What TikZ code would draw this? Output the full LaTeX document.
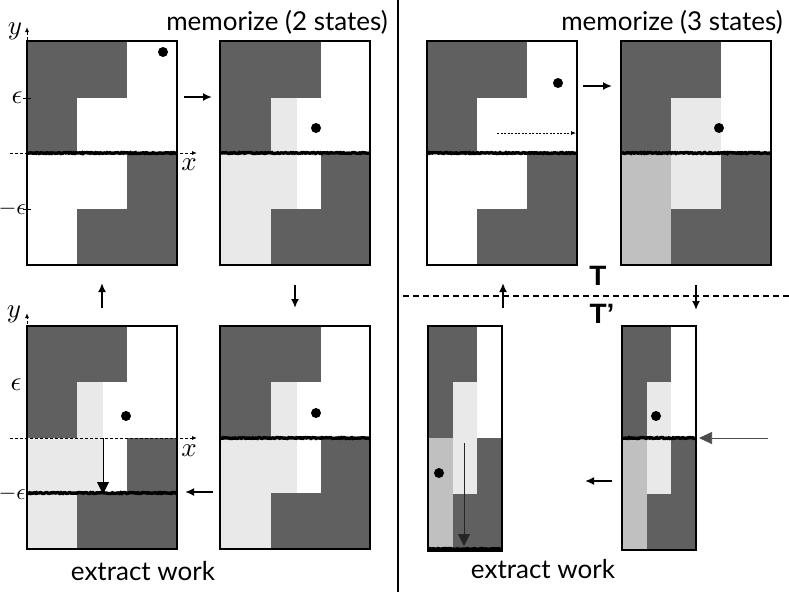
\documentclass[tikz,border=0pt]{standalone}
\usepackage{fontspec}
\newfontfamily\labelfont{Lato}
\newfontfamily\tfont{Liberation Sans}
\usetikzlibrary{arrows.meta,decorations.pathmorphing}
\definecolor{darkg}{RGB}{96,96,96}
\definecolor{lightg}{RGB}{233,233,233}
\definecolor{midg}{RGB}{192,192,192}
\begin{document}
\begin{tikzpicture}[x=1pt,y=-1pt,
  dk/.style={fill=darkg},
  lt/.style={fill=lightg},
  md/.style={fill=midg},
  wt/.style={fill=white},
  frame/.style={draw=black,line width=1.1pt,fill=none,inner sep=0pt,outer sep=0pt,anchor=north west},
  noisy/.style={line width=3.4pt,decorate,decoration={random steps,segment length=1.2pt,amplitude=0.5pt}},
  flow/.style={-{Latex[length=9pt,width=8pt]},line width=1.8pt},
  bigtip/.style={-{Triangle[length=12pt,width=12pt]},line width=0.9pt},
  axis/.style={dash pattern=on 3pt off 2pt,line width=0.9pt,-{Latex[length=5pt,width=4pt]}},
  dot/.style={circle,fill=black,minimum size=10pt,inner sep=0pt},
  title/.style={font=\labelfont\fontsize{26}{26}\selectfont},
  tl/.style={font=\tfont\bfseries\fontsize{28}{28}\selectfont},
  ml/.style={inner sep=0pt}]
\useasboundingbox (0,0) rectangle (789,592);

% ---------- panel 1 ----------
\fill[dk] (27,41) rectangle (177,265);
\fill[wt] (127,41) rectangle (177,153);
\fill[wt] (77,98) rectangle (127,153);
\fill[wt] (27,153) rectangle (127,209);
\fill[wt] (27,209) rectangle (77,265);
\node[frame,minimum width=150pt,minimum height=224pt] (p1) at (27,41) {};
\coordinate (n1a) at (27,153); \coordinate (n1b) at (177,153);
\draw[noisy] (n1a) -- (n1b);
\node[dot] (d1) at (163,52) {};
\coordinate (y1b) at (27,265); \coordinate (y1t) at (27,27);
\draw[axis] (y1b) -- (y1t);
\coordinate (x1l) at (10,153); \coordinate (x1r) at (197,153);
\draw[axis] (x1l) -- (x1r);
\coordinate (t1a) at (23,98); \coordinate (t1b) at (31,98);
\coordinate (t2a) at (23,209); \coordinate (t2b) at (31,209);
\draw[line width=0.9pt] (t1a) -- (t1b) (t2a) -- (t2b);
\node[ml] (ly1) at (15,31) {\scalebox{2.7}{$y$}};
\node[ml] (lx1) at (189,165) {\scalebox{2.7}{$x$}};
\node[ml] (le1) at (17,98) {\scalebox{2.7}{$\epsilon$}};
\node[ml,anchor=east] (lme1) at (26,209) {\scalebox{2.3}{$-\epsilon$}};

% ---------- panel 2 ----------
\fill[dk] (220,41) rectangle (370,265);
\fill[wt] (321,41) rectangle (370,153);
\fill[lt] (271,98) rectangle (297,153);
\fill[wt] (297,98) rectangle (321,153);
\fill[lt] (220,153) rectangle (297,209);
\fill[wt] (297,153) rectangle (321,209);
\fill[lt] (220,209) rectangle (271,265);
\node[frame,minimum width=150pt,minimum height=224pt] (p2) at (220,41) {};
\coordinate (n2a) at (220,153); \coordinate (n2b) at (370,153);
\draw[noisy] (n2a) -- (n2b);
\node[dot] (d2) at (316,128) {};

% ---------- panel 3 ----------
\fill[dk] (27,326) rectangle (177,549);
\fill[wt] (127,326) rectangle (177,438);
\fill[lt] (77,382) rectangle (103,438);
\fill[wt] (103,382) rectangle (127,438);
\fill[lt] (27,438) rectangle (103,493);
\fill[wt] (103,438) rectangle (127,493);
\fill[lt] (27,493) rectangle (77,549);
\node[frame,minimum width=150pt,minimum height=223pt] (p3) at (27,326) {};
\coordinate (n3a) at (27,493); \coordinate (n3b) at (177,493);
\draw[noisy] (n3a) -- (n3b);
\node[dot] (d3) at (126,416) {};
\coordinate (y3b) at (27,549); \coordinate (y3t) at (27,313);
\draw[axis] (y3b) -- (y3t);
\coordinate (x3l) at (10,438); \coordinate (x3r) at (197,438);
\draw[axis] (x3l) -- (x3r);
\coordinate (w3a) at (103,438); \coordinate (w3b) at (103,494);
\draw[bigtip] (w3a) -- (w3b);
\node[ml] (ly3) at (14,314) {\scalebox{2.7}{$y$}};
\node[ml] (lx3) at (189,451) {\scalebox{2.7}{$x$}};
\node[ml] (le3) at (16,385) {\scalebox{2.7}{$\epsilon$}};
\node[ml,anchor=east] (lme3) at (26,494) {\scalebox{2.3}{$-\epsilon$}};

% ---------- panel 4 ----------
\fill[dk] (220,326) rectangle (370,549);
\fill[wt] (321,326) rectangle (370,438);
\fill[lt] (271,382) rectangle (297,438);
\fill[wt] (297,382) rectangle (321,438);
\fill[lt] (220,438) rectangle (297,493);
\fill[wt] (297,438) rectangle (321,493);
\fill[lt] (220,493) rectangle (271,549);
\node[frame,minimum width=150pt,minimum height=223pt] (p4) at (220,326) {};
\coordinate (n4a) at (220,438); \coordinate (n4b) at (370,438);
\draw[noisy] (n4a) -- (n4b);
\node[dot] (d4) at (316,413) {};

% ---------- panel 5 ----------
\fill[dk] (427,41) rectangle (577,265);
\fill[wt] (527,41) rectangle (577,153);
\fill[wt] (477,98) rectangle (527,153);
\fill[wt] (427,153) rectangle (527,209);
\fill[wt] (427,209) rectangle (477,265);
\node[frame,minimum width=150pt,minimum height=224pt] (p5) at (427,41) {};
\coordinate (n5a) at (427,153); \coordinate (n5b) at (577,153);
\draw[noisy] (n5a) -- (n5b);
\node[dot] (d5) at (558,83) {};
\coordinate (m5a) at (497,133); \coordinate (m5b) at (576,133);
\draw[dash pattern=on 2pt off 1.5pt,line width=0.7pt,-{Latex[length=5pt,width=4pt]}] (m5a) -- (m5b);

% ---------- panel 6 ----------
\fill[dk] (621,41) rectangle (771,265);
\fill[wt] (721,41) rectangle (771,153);
\fill[lt] (671,98) rectangle (721,209);
\fill[md] (621,153) rectangle (671,265);
\node[frame,minimum width=150pt,minimum height=224pt] (p6) at (621,41) {};
\coordinate (n6a) at (621,153); \coordinate (n6b) at (771,153);
\draw[noisy] (n6a) -- (n6b);
\node[dot] (d6) at (719,128) {};

% ---------- panel 7 ----------
\fill[dk] (428,326) rectangle (502,551);
\fill[wt] (477,326) rectangle (502,438);
\fill[lt] (453,382) rectangle (477,494);
\fill[md] (428,438) rectangle (453,551);
\node[frame,minimum width=74pt,minimum height=225pt] (p7) at (428,326) {};
\coordinate (n7a) at (428,549); \coordinate (n7b) at (502,549);
\draw[noisy] (n7a) -- (n7b);
\node[dot] (d7) at (439,473) {};
\coordinate (w7a) at (464,443); \coordinate (w7b) at (464,546);
\draw[bigtip,draw=black!85] (w7a) -- (w7b);

% ---------- panel 8 ----------
\fill[dk] (622,326) rectangle (696,550);
\fill[wt] (671,326) rectangle (696,438);
\fill[lt] (647,382) rectangle (671,494);
\fill[md] (622,438) rectangle (647,550);
\node[frame,minimum width=74pt,minimum height=224pt] (p8) at (622,326) {};
\coordinate (n8a) at (622,438); \coordinate (n8b) at (696,438);
\draw[noisy] (n8a) -- (n8b);
\node[dot] (d8) at (656,416) {};
\coordinate (w8a) at (768,438); \coordinate (w8b) at (699,438);
\draw[-{Triangle[length=13pt,width=12pt]},line width=0.7pt,draw=black!70] (w8a) -- (w8b);

% ---------- cycle arrows ----------
\coordinate (a1s) at (184,97); \coordinate (a1e) at (212,97);
\draw[flow] (a1s) -- (a1e);
\coordinate (a2s) at (295,285); \coordinate (a2e) at (295,308);
\draw[flow] (a2s) -- (a2e);
\coordinate (a3s) at (213,492); \coordinate (a3e) at (185,492);
\draw[flow] (a3s) -- (a3e);
\coordinate (a4s) at (102,308); \coordinate (a4e) at (102,283);
\draw[flow] (a4s) -- (a4e);

\coordinate (b1s) at (583,86); \coordinate (b1e) at (612,86);
\draw[flow] (b1s) -- (b1e);
\coordinate (b2s) at (696,285); \coordinate (b2e) at (696,310);
\draw[flow] (b2s) -- (b2e);
\coordinate (b3s) at (612,481); \coordinate (b3e) at (585,481);
\draw[flow] (b3s) -- (b3e);
\coordinate (b4s) at (503,308); \coordinate (b4e) at (503,283);
\draw[flow] (b4s) -- (b4e);

% ---------- separators ----------
\coordinate (s1) at (398,0); \coordinate (s2) at (398,592);
\draw[line width=2pt] (s1) -- (s2);
\coordinate (h1) at (403,296); \coordinate (h2) at (789,296);
\draw[line width=1.6pt,dash pattern=on 6pt off 4pt] (h1) -- (h2);

% ---------- texts ----------
\node[title] (tt1) at (277,22) {memorize (2 states)};
\node[title] (tt2) at (672,22) {memorize (3 states)};
\node[title] (tx1) at (143,571) {extract work};
\node[title] (tx2) at (543,569) {extract work};
\node[tl] (lT) at (598,276) {T};
\node[tl] (lT2) at (602,314) {T’};
\end{tikzpicture}
\end{document}
